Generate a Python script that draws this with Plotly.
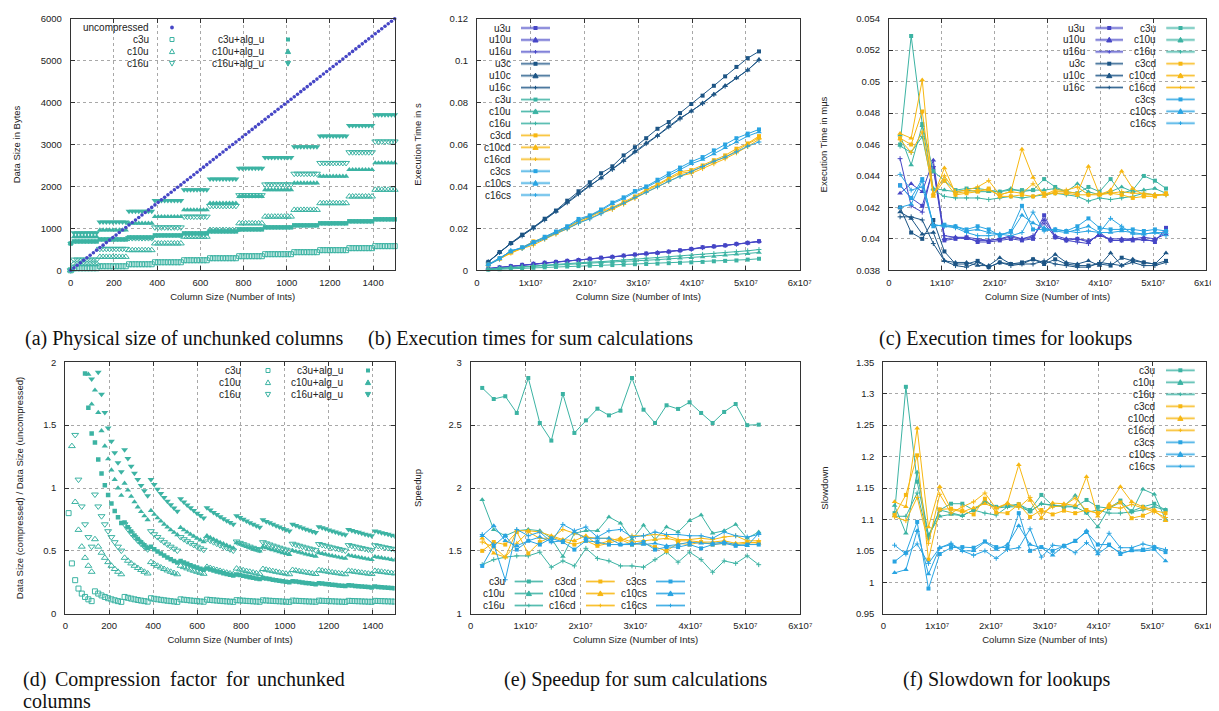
import plotly.graph_objects as go

W, H = 1219, 711
FONT = "Liberation Sans, Arial, sans-serif"
SERIF = "Liberation Serif, Times New Roman, serif"
PURPLE = '#4646c6'
NAVY = '#1d5585'
TEAL = '#3cb3a3'
GOLD = '#f7b711'
SKY = '#29a4e2'
BAND = {PURPLE: 'rgba(70,70,198,0.33)', NAVY: 'rgba(29,85,133,0.33)', TEAL: 'rgba(60,179,163,0.33)',
        GOLD: 'rgba(247,183,17,0.33)', SKY: 'rgba(41,164,226,0.33)'}
GRID = '#a8a8a8'
AXC = '#333333'
TXT = '#222222'

# ---------------------------------------------------------------- data (a)/(d)
col_ints = [0, 15, 30, 45, 60, 75, 90, 105, 120, 135, 150, 165, 180, 195, 210, 225, 240, 255,
            270, 285, 300, 315, 330, 345, 360, 375, 390, 405, 420, 435, 450, 465, 480, 495, 510,
            525, 540, 555, 570, 585, 600, 615, 630, 645, 660, 675, 690, 705, 720, 735, 750, 765,
            780, 795, 810, 825, 840, 855, 870, 885, 900, 915, 930, 945, 960, 975, 990, 1005,
            1020, 1035, 1050, 1065, 1080, 1095, 1110, 1125, 1140, 1155, 1170, 1185, 1200, 1215,
            1230, 1245, 1260, 1275, 1290, 1305, 1320, 1335, 1350, 1365, 1380, 1395, 1410, 1425,
            1440, 1455, 1470, 1485, 1500]
uncompressed_bytes = [0, 60, 120, 180, 240, 300, 360, 420, 480, 540, 600, 660, 720, 780, 840, 900,
                      960, 1020, 1080, 1140, 1200, 1260, 1320, 1380, 1440, 1500, 1560, 1620, 1680,
                      1740, 1800, 1860, 1920, 1980, 2040, 2100, 2160, 2220, 2280, 2340, 2400, 2460,
                      2520, 2580, 2640, 2700, 2760, 2820, 2880, 2940, 3000, 3060, 3120, 3180, 3240,
                      3300, 3360, 3420, 3480, 3540, 3600, 3660, 3720, 3780, 3840, 3900, 3960, 4020,
                      4080, 4140, 4200, 4260, 4320, 4380, 4440, 4500, 4560, 4620, 4680, 4740, 4800,
                      4860, 4920, 4980, 5040, 5100, 5160, 5220, 5280, 5340, 5400, 5460, 5520, 5580,
                      5640, 5700, 5760, 5820, 5880, 5940, 6000]
BLOCK_INTS = 128
# compressed size in bytes, indexed by number of 128-int blocks in use (0..12)
c3u_sizes = [0, 48, 96, 144, 192, 240, 288, 336, 384, 432, 480, 528, 576]
c10u_sizes = [0, 160, 320, 480, 640, 800, 960, 1120, 1280, 1440, 1600, 1760, 1920]
c16u_sizes = [0, 256, 512, 768, 1024, 1280, 1536, 1792, 2048, 2304, 2560, 2816, 3072]
c3u_alg_sizes = [640, 688, 736, 784, 832, 880, 928, 976, 1024, 1072, 1120, 1168, 1216]
c10u_alg_sizes = [640, 800, 960, 1120, 1280, 1440, 1600, 1760, 1920, 2080, 2240, 2400, 2560]
c16u_alg_sizes = [640, 896, 1152, 1408, 1664, 1920, 2176, 2432, 2688, 2944, 3200, 3456, 3712]

# ---------------------------------------------------------------- data (b),(c),(e),(f)
col_big = [2097152, 4194304, 6291456, 8388608, 10485760, 12582912, 14680064, 16777216,
           18874368, 20971520, 23068672, 25165824, 27262976, 29360128, 31457280, 33554432,
           35651584, 37748736, 39845888, 41943040, 44040192, 46137344, 48234496, 50331648,
           52428800]

# (b) execution time (s) for sum
sum_u3u = [0.0009, 0.0014, 0.0020, 0.0026, 0.0031, 0.0036, 0.0040, 0.0045, 0.0049, 0.0055, 0.0060, 0.0064, 0.0070,
           0.0075, 0.0080, 0.0083, 0.0089, 0.0095, 0.0102, 0.0110, 0.0114, 0.0119, 0.0126, 0.0131, 0.0139]
sum_u10u = [0.0008, 0.0014, 0.0019, 0.0025, 0.0030, 0.0035, 0.0040, 0.0044, 0.0049, 0.0054, 0.0059, 0.0063, 0.0069,
            0.0074, 0.0079, 0.0084, 0.0088, 0.0094, 0.0101, 0.0109, 0.0113, 0.0118, 0.0125, 0.0130, 0.0138]
sum_u16u = [0.0008, 0.0013, 0.0019, 0.0024, 0.0030, 0.0035, 0.0039, 0.0044, 0.0048, 0.0054, 0.0058, 0.0063, 0.0068,
            0.0073, 0.0078, 0.0083, 0.0088, 0.0093, 0.0100, 0.0108, 0.0113, 0.0118, 0.0124, 0.0130, 0.0137]
sum_u3c = [0.0040, 0.0087, 0.0130, 0.0170, 0.0205, 0.0246, 0.0285, 0.0332, 0.0377, 0.0420, 0.0463, 0.0496, 0.0548,
           0.0587, 0.0630, 0.0675, 0.0707, 0.0750, 0.0793, 0.0833, 0.0880, 0.0925, 0.0970, 0.1012, 0.1044]
sum_u10c = [0.0040, 0.0086, 0.0127, 0.0165, 0.0202, 0.0242, 0.0282, 0.0324, 0.0367, 0.0404, 0.0440, 0.0483, 0.0524,
            0.0567, 0.0607, 0.0643, 0.0687, 0.0726, 0.0758, 0.0798, 0.0840, 0.0880, 0.0917, 0.0954, 0.1005]
sum_u16c = [0.0040, 0.0085, 0.0128, 0.0164, 0.0200, 0.0240, 0.0280, 0.0322, 0.0364, 0.0402, 0.0441, 0.0481, 0.0521,
            0.0565, 0.0604, 0.0641, 0.0684, 0.0722, 0.0760, 0.0795, 0.0838, 0.0878, 0.0919, 0.0956, 0.1002]
sum_c3u = [0.0003, 0.0005, 0.0008, 0.0010, 0.0012, 0.0014, 0.0016, 0.0018, 0.0020, 0.0022, 0.0024, 0.0025, 0.0027,
           0.0029, 0.0030, 0.0032, 0.0034, 0.0036, 0.0038, 0.0040, 0.0043, 0.0045, 0.0047, 0.0051, 0.0055]
sum_c10u = [0.0005, 0.0009, 0.0013, 0.0016, 0.0019, 0.0022, 0.0025, 0.0029, 0.0031, 0.0034, 0.0037, 0.0039, 0.0042,
            0.0045, 0.0048, 0.0051, 0.0054, 0.0058, 0.0060, 0.0064, 0.0066, 0.0072, 0.0076, 0.0079, 0.0085]
sum_c16u = [0.0006, 0.0010, 0.0014, 0.0018, 0.0021, 0.0025, 0.0029, 0.0032, 0.0035, 0.0039, 0.0041, 0.0045, 0.0050,
            0.0054, 0.0058, 0.0060, 0.0063, 0.0067, 0.0071, 0.0076, 0.0080, 0.0084, 0.0088, 0.0093, 0.0099]
sum_c3cd = [0.0027, 0.0055, 0.0085, 0.0108, 0.0138, 0.0155, 0.0180, 0.0205, 0.0235, 0.0260, 0.0285, 0.0300, 0.0325,
            0.0352, 0.0385, 0.0410, 0.0440, 0.0470, 0.0478, 0.0500, 0.0525, 0.0548, 0.0580, 0.0605, 0.0640]
sum_c10cd = [0.0027, 0.0054, 0.0083, 0.0106, 0.0135, 0.0152, 0.0178, 0.0202, 0.0230, 0.0255, 0.0280, 0.0295, 0.0320,
             0.0348, 0.0380, 0.0405, 0.0435, 0.0462, 0.0470, 0.0495, 0.0518, 0.0540, 0.0570, 0.0598, 0.0632]
sum_c16cd = [0.0026, 0.0053, 0.0082, 0.0104, 0.0120, 0.0148, 0.0172, 0.0198, 0.0225, 0.0248, 0.0272, 0.0290, 0.0315,
             0.0343, 0.0372, 0.0398, 0.0425, 0.0450, 0.0462, 0.0485, 0.0508, 0.0532, 0.0560, 0.0590, 0.0625]
sum_c3cs = [0.0028, 0.0058, 0.0090, 0.0110, 0.0135, 0.0160, 0.0185, 0.0210, 0.0245, 0.0262, 0.0290, 0.0323, 0.0348,
            0.0378, 0.0400, 0.0432, 0.0462, 0.0490, 0.0518, 0.0540, 0.0572, 0.0600, 0.0630, 0.0652, 0.0672]
sum_c10cs = [0.0026, 0.0056, 0.0092, 0.0108, 0.0132, 0.0157, 0.0182, 0.0207, 0.0238, 0.0258, 0.0285, 0.0318, 0.0342,
             0.0372, 0.0395, 0.0425, 0.0452, 0.0480, 0.0508, 0.0528, 0.0555, 0.0585, 0.0612, 0.0640, 0.0660]
sum_c16cs = [0.0025, 0.0053, 0.0095, 0.0104, 0.0128, 0.0150, 0.0177, 0.0198, 0.0225, 0.0245, 0.0270, 0.0297, 0.0320,
             0.0348, 0.0372, 0.0398, 0.0425, 0.0448, 0.0470, 0.0495, 0.0520, 0.0540, 0.0565, 0.0592, 0.0612]

# (c) execution time for lookups
lk_u3u = [0.0434, 0.0426, 0.0421, 0.0445, 0.0399, 0.0400, 0.0401, 0.0398, 0.0398, 0.0399, 0.0400, 0.0399, 0.0400,
          0.0415, 0.0401, 0.0399, 0.0400, 0.0398, 0.0403, 0.0399, 0.0399, 0.0399, 0.0400, 0.0398, 0.0407]
lk_u10u = [0.0429, 0.0435, 0.0430, 0.0450, 0.0400, 0.0401, 0.0400, 0.0399, 0.0399, 0.0400, 0.0401, 0.0400, 0.0401,
           0.0412, 0.0402, 0.0400, 0.0400, 0.0399, 0.0402, 0.0400, 0.0400, 0.0400, 0.0401, 0.0400, 0.0403]
lk_u16u = [0.0451, 0.0421, 0.0417, 0.0446, 0.0402, 0.0401, 0.0401, 0.0400, 0.0399, 0.0400, 0.0402, 0.0400, 0.0402,
           0.0410, 0.0401, 0.0399, 0.0398, 0.0397, 0.0404, 0.0399, 0.0399, 0.0400, 0.0399, 0.0399, 0.0405]
lk_u3c = [0.0420, 0.0404, 0.0400, 0.0412, 0.0392, 0.0384, 0.0384, 0.0386, 0.0382, 0.0385, 0.0384, 0.0385, 0.0387,
          0.0384, 0.0387, 0.0384, 0.0383, 0.0383, 0.0384, 0.0383, 0.0388, 0.0386, 0.0385, 0.0384, 0.0386]
lk_u10c = [0.0417, 0.0413, 0.0403, 0.0404, 0.0386, 0.0385, 0.0385, 0.0383, 0.0383, 0.0388, 0.0384, 0.0384, 0.0387,
           0.0385, 0.0390, 0.0385, 0.0384, 0.0386, 0.0383, 0.0391, 0.0383, 0.0387, 0.0385, 0.0384, 0.0391]
lk_u16c = [0.0414, 0.0414, 0.0412, 0.0397, 0.0386, 0.0383, 0.0382, 0.0385, 0.0382, 0.0385, 0.0383, 0.0384, 0.0384,
           0.0386, 0.0384, 0.0383, 0.0382, 0.0382, 0.0385, 0.0384, 0.0383, 0.0385, 0.0383, 0.0383, 0.0385]
lk_c3u = [0.0460, 0.0529, 0.0473, 0.0443, 0.0437, 0.0431, 0.0432, 0.0432, 0.0431, 0.0430, 0.0431, 0.0431, 0.0431,
          0.0438, 0.0433, 0.0430, 0.0429, 0.0433, 0.0430, 0.0438, 0.0429, 0.0431, 0.0440, 0.0437, 0.0432]
lk_c10u = [0.0466, 0.0447, 0.0472, 0.0432, 0.0431, 0.0430, 0.0431, 0.0430, 0.0430, 0.0430, 0.0432, 0.0430, 0.0431,
           0.0431, 0.0432, 0.0430, 0.0435, 0.0430, 0.0428, 0.0430, 0.0433, 0.0430, 0.0431, 0.0432, 0.0429]
lk_c16u = [0.0459, 0.0455, 0.0465, 0.0431, 0.0427, 0.0426, 0.0426, 0.0426, 0.0425, 0.0426, 0.0427, 0.0426, 0.0427,
           0.0428, 0.0429, 0.0428, 0.0427, 0.0424, 0.0426, 0.0425, 0.0426, 0.0427, 0.0429, 0.0428, 0.0428]
lk_c3cd = [0.0464, 0.0460, 0.0481, 0.0428, 0.0437, 0.0428, 0.0429, 0.0430, 0.0432, 0.0427, 0.0427, 0.0428, 0.0427,
           0.0429, 0.0429, 0.0429, 0.0428, 0.0428, 0.0428, 0.0429, 0.0428, 0.0426, 0.0427, 0.0427, 0.0429]
lk_c10cd = [0.0467, 0.0464, 0.0501, 0.0427, 0.0445, 0.0429, 0.0430, 0.0431, 0.0431, 0.0428, 0.0430, 0.0457, 0.0439,
            0.0427, 0.0430, 0.0430, 0.0429, 0.0446, 0.0428, 0.0431, 0.0443, 0.0432, 0.0428, 0.0428, 0.0428]
lk_c16cd = [0.0463, 0.0455, 0.0468, 0.0428, 0.0440, 0.0430, 0.0431, 0.0433, 0.0437, 0.0428, 0.0430, 0.0429, 0.0435,
            0.0428, 0.0431, 0.0431, 0.0433, 0.0428, 0.0429, 0.0429, 0.0430, 0.0429, 0.0429, 0.0428, 0.0428]
lk_c3cs = [0.0434, 0.0426, 0.0438, 0.0408, 0.0409, 0.0408, 0.0406, 0.0408, 0.0406, 0.0402, 0.0405, 0.0421, 0.0406,
           0.0406, 0.0406, 0.0405, 0.0408, 0.0413, 0.0407, 0.0406, 0.0406, 0.0406, 0.0405, 0.0406, 0.0405]
lk_c10cs = [0.0420, 0.0422, 0.0437, 0.0409, 0.0408, 0.0408, 0.0405, 0.0406, 0.0404, 0.0403, 0.0404, 0.0415, 0.0410,
            0.0407, 0.0405, 0.0404, 0.0406, 0.0408, 0.0404, 0.0404, 0.0405, 0.0404, 0.0403, 0.0404, 0.0404]
lk_c16cs = [0.0441, 0.0431, 0.0433, 0.0409, 0.0408, 0.0407, 0.0404, 0.0402, 0.0402, 0.0403, 0.0402, 0.0404, 0.0417,
            0.0405, 0.0406, 0.0405, 0.0404, 0.0405, 0.0404, 0.0413, 0.0408, 0.0403, 0.0403, 0.0404, 0.0402]

# (e) speedup for sum
sp_c3u = [2.796, 2.708, 2.730, 2.597, 2.875, 2.517, 2.377, 2.748, 2.438, 2.538, 2.631, 2.578, 2.615,
          2.875, 2.623, 2.517, 2.658, 2.629, 2.682, 2.597, 2.517, 2.605, 2.668, 2.500, 2.504]
sp_c10u = [1.907, 1.668, 1.620, 1.660, 1.670, 1.660, 1.600, 1.456, 1.640, 1.660, 1.660, 1.770, 1.720,
           1.590, 1.703, 1.590, 1.690, 1.650, 1.740, 1.785, 1.640, 1.660, 1.710, 1.600, 1.650]
sp_c16u = [1.390, 1.430, 1.450, 1.460, 1.460, 1.490, 1.370, 1.420, 1.380, 1.520, 1.440, 1.420, 1.380,
           1.380, 1.370, 1.430, 1.490, 1.410, 1.490, 1.430, 1.330, 1.420, 1.400, 1.460, 1.390]
sp_c3cd = [1.500, 1.570, 1.550, 1.650, 1.480, 1.570, 1.610, 1.580, 1.550, 1.580, 1.540, 1.560, 1.590,
           1.550, 1.560, 1.530, 1.500, 1.560, 1.550, 1.570, 1.550, 1.560, 1.550, 1.560, 1.570]
sp_c10cd = [1.600, 1.480, 1.450, 1.660, 1.660, 1.650, 1.620, 1.590, 1.580, 1.620, 1.550, 1.580, 1.600,
            1.570, 1.580, 1.590, 1.600, 1.580, 1.580, 1.570, 1.570, 1.580, 1.560, 1.570, 1.560]
sp_c16cd = [1.570, 1.530, 1.450, 1.560, 1.650, 1.600, 1.600, 1.670, 1.640, 1.610, 1.600, 1.600, 1.580,
            1.620, 1.620, 1.630, 1.620, 1.590, 1.590, 1.600, 1.590, 1.610, 1.620, 1.580, 1.580]
sp_c3cs = [1.380, 1.540, 1.620, 1.510, 1.580, 1.550, 1.600, 1.570, 1.510, 1.580, 1.570, 1.550, 1.550,
           1.550, 1.570, 1.510, 1.530, 1.530, 1.550, 1.520, 1.550, 1.560, 1.540, 1.550, 1.550]
sp_c10cs = [1.620, 1.700, 1.580, 1.540, 1.580, 1.610, 1.570, 1.580, 1.650, 1.600, 1.600, 1.600, 1.550,
            1.560, 1.550, 1.560, 1.540, 1.550, 1.570, 1.560, 1.560, 1.570, 1.550, 1.540, 1.640]
sp_c16cs = [1.630, 1.550, 1.270, 1.670, 1.620, 1.650, 1.570, 1.710, 1.660, 1.690, 1.610, 1.660, 1.670,
            1.610, 1.620, 1.650, 1.630, 1.630, 1.620, 1.620, 1.600, 1.650, 1.620, 1.610, 1.630]

# (f) slowdown for lookups
sl_c3u = [1.110, 1.311, 1.160, 1.074, 1.115, 1.125, 1.125, 1.115, 1.128, 1.120, 1.122, 1.124, 1.115,
          1.139, 1.122, 1.120, 1.120, 1.131, 1.120, 1.118, 1.130, 1.113, 1.120, 1.125, 1.115]
sl_c10u = [1.122, 1.078, 1.175, 1.075, 1.105, 1.108, 1.106, 1.115, 1.130, 1.118, 1.120, 1.124, 1.112,
           1.125, 1.123, 1.121, 1.138, 1.110, 1.088, 1.118, 1.127, 1.112, 1.148, 1.140, 1.100]
sl_c16u = [1.105, 1.105, 1.142, 1.070, 1.115, 1.110, 1.106, 1.115, 1.110, 1.107, 1.120, 1.120, 1.113,
           1.125, 1.122, 1.122, 1.120, 1.111, 1.115, 1.110, 1.110, 1.112, 1.115, 1.120, 1.115]
sl_c3cd = [1.107, 1.139, 1.202, 1.036, 1.116, 1.117, 1.114, 1.108, 1.133, 1.111, 1.110, 1.124, 1.104,
           1.115, 1.108, 1.114, 1.110, 1.115, 1.110, 1.120, 1.127, 1.102, 1.106, 1.114, 1.110]
sl_c10cd = [1.128, 1.120, 1.245, 1.088, 1.152, 1.116, 1.112, 1.118, 1.125, 1.118, 1.126, 1.187, 1.130,
            1.102, 1.126, 1.125, 1.122, 1.168, 1.105, 1.124, 1.152, 1.128, 1.120, 1.115, 1.098]
sl_c16cd = [1.104, 1.098, 1.135, 1.062, 1.140, 1.110, 1.120, 1.128, 1.142, 1.117, 1.125, 1.119, 1.135,
            1.110, 1.120, 1.122, 1.134, 1.114, 1.110, 1.120, 1.118, 1.124, 1.118, 1.112, 1.103]
sl_c3cs = [1.033, 1.047, 1.096, 0.990, 1.045, 1.055, 1.056, 1.055, 1.065, 1.056, 1.055, 1.110, 1.050,
           1.056, 1.050, 1.058, 1.066, 1.080, 1.060, 1.060, 1.045, 1.051, 1.052, 1.056, 1.048]
sl_c10cs = [1.015, 1.020, 1.082, 1.013, 1.055, 1.060, 1.050, 1.050, 1.064, 1.052, 1.060, 1.090, 1.060,
            1.055, 1.043, 1.058, 1.065, 1.082, 1.045, 1.058, 1.047, 1.050, 1.050, 1.052, 1.034]
sl_c16cs = [1.059, 1.045, 1.061, 1.030, 1.055, 1.062, 1.050, 1.043, 1.050, 1.038, 1.052, 1.055, 1.085,
            1.040, 1.059, 1.057, 1.047, 1.063, 1.048, 1.078, 1.055, 1.055, 1.061, 1.056, 1.052]

# tick labels
big_ticks = [0, 1e7, 2e7, 3e7, 4e7, 5e7, 6e7]
big_ticktext = ['0', '1x10\u2077', '2x10\u2077', '3x10\u2077', '4x10\u2077', '5x10\u2077', '6x10\u2077']
ints_ticks = [0, 200, 400, 600, 800, 1000, 1200, 1400]
ints_text = ['0', '200', '400', '600', '800', '1000', '1200', '1400']
a_yticks = [0, 1000, 2000, 3000, 4000, 5000, 6000]
a_ytext = ['0', '1000', '2000', '3000', '4000', '5000', '6000']
b_yticks = [0, 0.02, 0.04, 0.06, 0.08, 0.1, 0.12]
b_ytext = ['0', '0.02', '0.04', '0.06', '0.08', '0.1', '0.12']
c_yticks = [0.038, 0.040, 0.042, 0.044, 0.046, 0.048, 0.050, 0.052, 0.054]
c_ytext = ['0.038', '0.04', '0.042', '0.044', '0.046', '0.048', '0.05', '0.052', '0.054']
d_yticks = [0, 0.5, 1, 1.5, 2]
d_ytext = ['0', '0.5', '1', '1.5', '2']
e_yticks = [1, 1.5, 2, 2.5, 3]
e_ytext = ['1', '1.5', '2', '2.5', '3']
f_yticks = [0.95, 1.0, 1.05, 1.1, 1.15, 1.2, 1.25, 1.3, 1.35]
f_ytext = ['0.95', '1', '1.05', '1.1', '1.15', '1.2', '1.25', '1.3', '1.35']

# ---------------------------------------------------------------- helpers
def PX(x):
    return x / W


def PY(y):
    return 1 - y / H


fig = go.Figure()
layout_axes = {}
shapes = []
annotations = []

PANELS = {
    # name: (x-axis id, y-axis id, x pixel span, y pixel span)
    'a': ('x', 'y', (62.7, 386.7), (10.7, 262.3)),
    'b': ('x2', 'y2', (469.0, 791.7), (10.7, 262.3)),
    'c': ('x3', 'y3', (881.0, 1198.0), (10.7, 262.3)),
    'd': ('x4', 'y4', (57.3, 386.7), (354.3, 605.7)),
    'e': ('x5', 'y5', (462.7, 792.3), (354.3, 605.7)),
    'f': ('x6', 'y6', (875.3, 1198.3), (354.3, 605.7)),
}


def base_axis():
    return dict(showline=True, linecolor=AXC, linewidth=1, mirror='ticks', ticks='inside',
                ticklen=4, tickwidth=1, tickcolor=AXC, showgrid=True, gridcolor=GRID,
                griddash='dot', gridwidth=1, zeroline=False, automargin=False,
                tickfont=dict(family=FONT, size=9.5, color=TXT), tickmode='array')


def set_axes(panel, xr, xt, xtt, xtitle, yr, yt, ytt, ytitle, ystand):
    xid, yid, (x0, x1), (y0, y1) = PANELS[panel]
    xname = 'xaxis' + xid[1:]
    yname = 'yaxis' + yid[1:]
    xa = base_axis()
    xa.update(domain=[PX(x0), PX(x1)], anchor=yid, range=xr, tickvals=xt, ticktext=xtt,
              ticklabelstandoff=3,
              title=dict(text=xtitle, font=dict(family=FONT, size=9.5, color=TXT), standoff=6))
    ya = base_axis()
    ya.update(domain=[PY(y1), PY(y0)], anchor=xid, range=yr, tickvals=yt, ticktext=ytt,
              ticklabelstandoff=6,
              title=dict(text=ytitle, font=dict(family=FONT, size=9.5, color=TXT), standoff=ystand))
    layout_axes[xname] = xa
    layout_axes[yname] = ya


SYM = {'sq': 'square', 'tu': 'triangle-up', 'pl': 'cross-thin', 'ci': 'circle',
       'sqo': 'square-open', 'tuo': 'triangle-up-open', 'tdo': 'triangle-down-open',
       'td': 'triangle-down'}
MSIZE = {'sq': 4.5, 'tu': 5.5, 'pl': 4, 'ci': 3.6, 'sqo': 5, 'tuo': 6, 'tdo': 6, 'td': 6}


def add_markers(panel, name, xs, ys, color, kind, clip=False):
    xid, yid = PANELS[panel][0], PANELS[panel][1]
    mk = dict(symbol=SYM[kind], size=MSIZE[kind], color=color)
    if kind in ('sqo', 'tuo', 'tdo', 'pl'):
        mk['line'] = dict(width=1, color=color)
    fig.add_trace(go.Scatter(x=xs, y=ys, mode='markers', name=name, marker=mk,
                             xaxis=xid, yaxis=yid, showlegend=False, cliponaxis=clip))


def add_line(panel, name, xs, ys, color, kind):
    xid, yid = PANELS[panel][0], PANELS[panel][1]
    mk = dict(symbol=SYM[kind], size=MSIZE[kind] - 0.5, color=color)
    if kind == 'pl':
        mk['line'] = dict(width=1, color=color)
        mk['size'] = 3.5
    fig.add_trace(go.Scatter(x=xs, y=ys, mode='lines+markers', name=name, marker=mk,
                             line=dict(color=color, width=1), xaxis=xid, yaxis=yid,
                             showlegend=False, cliponaxis=False))


def legend_marker(kind, cx, cy, color):
    if kind in ('sq', 'sqo'):
        s = 2.0
        shapes.append(dict(type='rect', xref='paper', yref='paper',
                           x0=PX(cx - s), x1=PX(cx + s), y0=PY(cy + s), y1=PY(cy - s),
                           fillcolor=color if kind == 'sq' else 'white',
                           line=dict(color=color, width=1 if kind == 'sqo' else 0)))
    elif kind in ('tu', 'tuo', 'td', 'tdo'):
        s = 2.6
        if kind.startswith('tu'):
            pts = [(cx - s, cy + s * 0.8), (cx + s, cy + s * 0.8), (cx, cy - s)]
        else:
            pts = [(cx - s, cy - s * 0.8), (cx + s, cy - s * 0.8), (cx, cy + s)]
        path = 'M {} {} L {} {} L {} {} Z'.format(*[v for p in pts for v in (PX(p[0]), PY(p[1]))])
        shapes.append(dict(type='path', xref='paper', yref='paper', path=path,
                           fillcolor=color if kind in ('tu', 'td') else 'white',
                           line=dict(color=color, width=1)))
    elif kind == 'pl':
        s = 1.8
        shapes.append(dict(type='line', xref='paper', yref='paper', x0=PX(cx - s), x1=PX(cx + s),
                           y0=PY(cy), y1=PY(cy), line=dict(color=color, width=1)))
        shapes.append(dict(type='line', xref='paper', yref='paper', x0=PX(cx), x1=PX(cx),
                           y0=PY(cy - s), y1=PY(cy + s), line=dict(color=color, width=1)))
    elif kind == 'ci':
        s = 1.9
        shapes.append(dict(type='circle', xref='paper', yref='paper', x0=PX(cx - s), x1=PX(cx + s),
                           y0=PY(cy + s), y1=PY(cy - s), fillcolor=color, line=dict(width=0)))


def legend_column(entries, label_right, y0, dy, marker_x=None, line_x=None):
    for i, (name, color, kind) in enumerate(entries):
        cy = y0 + dy * i
        annotations.append(dict(x=PX(label_right), y=PY(cy), xref='paper', yref='paper',
                                text=name, showarrow=False, xanchor='right', yanchor='middle',
                                font=dict(family=FONT, size=10, color=TXT)))
        if line_x is not None:
            lx0, lx1 = line_x
            shapes.append(dict(type='line', xref='paper', yref='paper', x0=PX(lx0), x1=PX(lx1),
                               y0=PY(cy), y1=PY(cy), line=dict(color=BAND[color], width=3)))
            shapes.append(dict(type='line', xref='paper', yref='paper', x0=PX(lx0), x1=PX(lx1),
                               y0=PY(cy), y1=PY(cy), line=dict(color=color, width=0.8)))
            legend_marker(kind, (lx0 + lx1) / 2, cy, color)
        else:
            legend_marker(kind, marker_x, cy, color)


def key_box(x0, x1, y0, y1):
    shapes.append(dict(type='rect', xref='paper', yref='paper', x0=PX(x0), x1=PX(x1),
                       y0=PY(y1), y1=PY(y0), fillcolor='white', line=dict(width=0),
                       layer='between'))


# ---------------------------------------------------------------- (a)
def blocks_used(n_ints):
    return -(-n_ints // BLOCK_INTS)


set_axes('a', [0, 1500], ints_ticks, ints_text, 'Column Size (Number of Ints)',
         [0, 6000], a_yticks, a_ytext, 'Data Size in Bytes', 18)
a_series = [('c3u', c3u_sizes, 'sqo'), ('c10u', c10u_sizes, 'tuo'), ('c16u', c16u_sizes, 'tdo'),
            ('c3u+alg_u', c3u_alg_sizes, 'sq'), ('c10u+alg_u', c10u_alg_sizes, 'tu'),
            ('c16u+alg_u', c16u_alg_sizes, 'td')]
for name, sizes, kind in a_series:
    ys = [sizes[blocks_used(n)] for n in col_ints]
    add_markers('a', name, col_ints, ys, TEAL, kind)
add_markers('a', 'uncompressed', col_ints, uncompressed_bytes, PURPLE, 'ci')

key_box(63.5, 296, 11.5, 62)
legend_column([('uncompressed', PURPLE, 'ci'), ('c3u', TEAL, 'sqo'), ('c10u', TEAL, 'tuo'),
               ('c16u', TEAL, 'tdo')], 142.7, 19.5, 12, marker_x=164)
legend_column([('c3u+alg_u', TEAL, 'sq'), ('c10u+alg_u', TEAL, 'tu'), ('c16u+alg_u', TEAL, 'td')],
              258.3, 31.5, 12, marker_x=280)

# ---------------------------------------------------------------- (d)
set_axes('d', [0, 1500], ints_ticks, ints_text, 'Column Size (Number of Ints)',
         [0, 2], d_yticks, d_ytext, 'Data Size (compressed) / Data Size (uncompressed)', 17)
for name, sizes, kind in a_series:
    xs = col_ints[1:]
    ys = [sizes[blocks_used(n)] / u for n, u in zip(col_ints[1:], uncompressed_bytes[1:])]
    add_markers('d', name, xs, ys, TEAL, kind, clip=True)

key_box(195, 386, 355, 394)
legend_column([('c3u', TEAL, 'sqo'), ('c10u', TEAL, 'tuo'), ('c16u', TEAL, 'tdo')],
              235, 362.5, 12, marker_x=260)
legend_column([('c3u+alg_u', TEAL, 'sq'), ('c10u+alg_u', TEAL, 'tu'), ('c16u+alg_u', TEAL, 'td')],
              337.3, 362.5, 12, marker_x=360)

# ---------------------------------------------------------------- (b)
set_axes('b', [0, 6e7], big_ticks, big_ticktext, 'Column Size (Number of Ints)',
         [0, 0.12], b_yticks, b_ytext, 'Execution Time in s', 26)
b_series = [('u3u', sum_u3u, PURPLE, 'sq'), ('u10u', sum_u10u, PURPLE, 'tu'), ('u16u', sum_u16u, PURPLE, 'pl'),
            ('u3c', sum_u3c, NAVY, 'sq'), ('u10c', sum_u10c, NAVY, 'tu'), ('u16c', sum_u16c, NAVY, 'pl'),
            ('c3u', sum_c3u, TEAL, 'sq'), ('c10u', sum_c10u, TEAL, 'tu'), ('c16u', sum_c16u, TEAL, 'pl'),
            ('c3cd', sum_c3cd, GOLD, 'sq'), ('c10cd', sum_c10cd, GOLD, 'tu'), ('c16cd', sum_c16cd, GOLD, 'pl'),
            ('c3cs', sum_c3cs, SKY, 'sq'), ('c10cs', sum_c10cs, SKY, 'tu'), ('c16cs', sum_c16cs, SKY, 'pl')]
for name, ys, color, kind in b_series:
    add_line('b', name, col_big, ys, color, kind)
key_box(469.8, 546, 11.5, 194)
legend_column([(n, c, k) for n, _, c, k in b_series], 505, 20, 11.93, line_x=(513, 542))

# ---------------------------------------------------------------- (c)
set_axes('c', [0, 6e7], big_ticks, big_ticktext, 'Column Size (Number of Ints)',
         [0.038, 0.054], c_yticks, c_ytext, 'Execution Time in m\u00b5s', 26)
c_series = [('u3u', lk_u3u, PURPLE, 'sq'), ('u10u', lk_u10u, PURPLE, 'tu'), ('u16u', lk_u16u, PURPLE, 'pl'),
            ('u3c', lk_u3c, NAVY, 'sq'), ('u10c', lk_u10c, NAVY, 'tu'), ('u16c', lk_u16c, NAVY, 'pl'),
            ('c3u', lk_c3u, TEAL, 'sq'), ('c10u', lk_c10u, TEAL, 'tu'), ('c16u', lk_c16u, TEAL, 'pl'),
            ('c3cd', lk_c3cd, GOLD, 'sq'), ('c10cd', lk_c10cd, GOLD, 'tu'), ('c16cd', lk_c16cd, GOLD, 'pl'),
            ('c3cs', lk_c3cs, SKY, 'sq'), ('c10cs', lk_c10cs, SKY, 'tu'), ('c16cs', lk_c16cs, SKY, 'pl')]
for name, ys, color, kind in c_series:
    add_line('c', name, col_big, ys, color, kind)
key_box(1046, 1197.2, 11.5, 127)
legend_column([(n, c, k) for n, _, c, k in c_series[:6]], 1079, 20, 11.9, line_x=(1087.5, 1115))
legend_column([(n, c, k) for n, _, c, k in c_series[6:]], 1150, 20, 11.9, line_x=(1158.3, 1186.7))

# ---------------------------------------------------------------- (e)
set_axes('e', [0, 6e7], big_ticks, big_ticktext, 'Column Size (Number of Ints)',
         [1, 3], e_yticks, e_ytext, 'Speedup', 25)
e_series = [('c3u', sp_c3u, TEAL, 'sq'), ('c10u', sp_c10u, TEAL, 'tu'), ('c16u', sp_c16u, TEAL, 'pl'),
            ('c3cd', sp_c3cd, GOLD, 'sq'), ('c10cd', sp_c10cd, GOLD, 'tu'), ('c16cd', sp_c16cd, GOLD, 'pl'),
            ('c3cs', sp_c3cs, SKY, 'sq'), ('c10cs', sp_c10cs, SKY, 'tu'), ('c16cs', sp_c16cs, SKY, 'pl')]
for name, ys, color, kind in e_series:
    add_line('e', name, col_big, ys, color, kind)
key_box(463.5, 690, 566, 604.9)
legend_column([(n, c, k) for n, _, c, k in e_series[0:3]], 499, 573.5, 12, line_x=(506.7, 535))
legend_column([(n, c, k) for n, _, c, k in e_series[3:6]], 570, 573.5, 12, line_x=(578, 606.7))
legend_column([(n, c, k) for n, _, c, k in e_series[6:9]], 640.7, 573.5, 12, line_x=(648, 677))

# ---------------------------------------------------------------- (f)
set_axes('f', [0, 6e7], big_ticks, big_ticktext, 'Column Size (Number of Ints)',
         [0.95, 1.35], f_yticks, f_ytext, 'Slowdown', 25)
f_series = [('c3u', sl_c3u, TEAL, 'sq'), ('c10u', sl_c10u, TEAL, 'tu'), ('c16u', sl_c16u, TEAL, 'pl'),
            ('c3cd', sl_c3cd, GOLD, 'sq'), ('c10cd', sl_c10cd, GOLD, 'tu'), ('c16cd', sl_c16cd, GOLD, 'pl'),
            ('c3cs', sl_c3cs, SKY, 'sq'), ('c10cs', sl_c10cs, SKY, 'tu'), ('c16cs', sl_c16cs, SKY, 'pl')]
for name, ys, color, kind in f_series:
    add_line('f', name, col_big, ys, color, kind)
key_box(1112, 1197.5, 355, 466)
legend_column([(n, c, k) for n, _, c, k in f_series], 1149.3, 362.3, 12, line_x=(1158, 1186.7))

# ---------------------------------------------------------------- captions
def caption(text, x, y, anchor='center'):
    annotations.append(dict(x=PX(x), y=PY(y), xref='paper', yref='paper', text=text,
                            showarrow=False, xanchor=anchor, yanchor='middle',
                            font=dict(family=SERIF, size=20, color='#111111')))


caption('(a) Physical size of unchunked columns', 175.5, 330)
caption('(b) Execution times for sum calculations', 522.6, 330)
caption('(c) Execution times for lookups', 997, 330)
for word, x in [('(d)', 13.3), ('Compression', 44.9), ('factor', 160.3), ('for', 215.7),
                ('unchunked', 247.2)]:
    caption(word, x, 671, anchor='left')
caption('columns', 13.3, 693, anchor='left')
caption('(e) Speedup for sum calculations', 627.5, 671)
caption('(f) Slowdown for lookups', 998.5, 671)

fig.update_layout(width=W, height=H, margin=dict(l=0, r=0, t=0, b=0, pad=0),
                  paper_bgcolor='white', plot_bgcolor='white', showlegend=False,
                  shapes=shapes, annotations=annotations, **layout_axes)
fig.write_html('out.html')
